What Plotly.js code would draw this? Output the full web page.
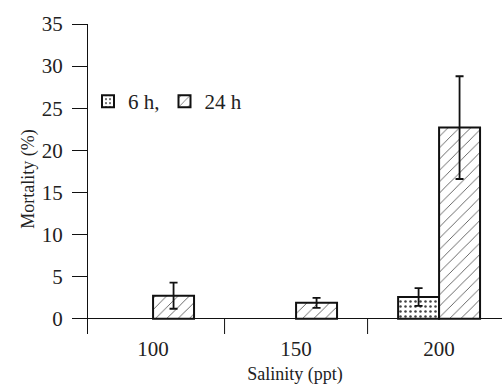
<!DOCTYPE html>
<html>
<head>
<meta charset="utf-8">
<script src="https://cdn.plot.ly/plotly-3.0.1.min.js"></script>
<style>html,body{margin:0;padding:0;background:#fff}#chart{width:502px;height:387px}</style>
</head>
<body>
<div id="chart"></div>
<script>
const categories = ["100", "150", "200"];
const catPos = [0, 1, 2];
const seriesNames = ["6 h,", "24 h"];
const mort6h = [null, null, 2.6];
const err6h = [0, 0, 1.05];
const mort24h = [2.75, 1.9, 22.7];
const err24h = [1.55, 0.6, 6.1];
const yTicks = [0, 5, 10, 15, 20, 25, 30, 35];

const fam = "'Liberation Serif', 'Times New Roman', serif";
const tickFont = {family: fam, size: 21, color: "#222"};
const titleFont = {family: fam, size: 18, color: "#222"};

const traces = [
  {
    type: "bar", name: seriesNames[0], x: catPos, y: mort6h,
    error_y: {type: "data", array: err6h, visible: true, color: "#111", thickness: 1.8, width: 4},
    marker: {color: "white", line: {color: "#111", width: 2},
      pattern: {shape: ".", fgcolor: "#444", bgcolor: "white", size: 5, solidity: 0.2}}
  },
  {
    type: "bar", name: seriesNames[1], x: catPos, y: mort24h,
    error_y: {type: "data", array: err24h, visible: true, color: "#111", thickness: 1.8, width: 4},
    marker: {color: "white", line: {color: "#111", width: 2},
      pattern: {shape: "/", fgcolor: "#444", bgcolor: "white", size: 8, solidity: 0.1}}
  }
];

const shapes = [0.5, 1.5].map(v => ({
  type: "line", xref: "x", yref: "y", x0: v, x1: v, y0: 0, y1: -1.8,
  line: {color: "#111", width: 1}
}));

const layout = {
  width: 502, height: 387,
  margin: {l: 88, r: 0, t: 24, b: 53},
  paper_bgcolor: "white", plot_bgcolor: "white",
  font: tickFont,
  showlegend: true,
  legend: {orientation: "h", x: 0.0, y: 0.75, xanchor: "left", yanchor: "middle",
    font: tickFont, bgcolor: "rgba(0,0,0,0)", itemwidth: 30, traceorder: "normal"},
  barmode: "group", bargap: 0.427, bargroupgap: 0,
  xaxis: {
    range: [-0.455, 2.44], tickmode: "array", tickvals: catPos, ticktext: categories,
    showline: false, showgrid: false, zeroline: false, ticks: "", ticklabelstandoff: 0,
    tickfont: tickFont,
    title: {text: "Salinity (ppt)", font: titleFont, standoff: 7}
  },
  yaxis: {
    range: [-1.8, 35], tickmode: "array", tickvals: yTicks,
    showline: true, linecolor: "#111", linewidth: 1,
    ticks: "outside", ticklen: 15, tickcolor: "#111", tickwidth: 1,
    showgrid: false, zeroline: true, zerolinecolor: "#111", zerolinewidth: 1,
    tickfont: tickFont, ticklabelstandoff: 5,
    title: {text: "Mortality (%)", font: titleFont, standoff: 2}
  },
  shapes: shapes
};

Plotly.newPlot("chart", traces, layout, {staticPlot: true, displayModeBar: false});
</script>
</body>
</html>
